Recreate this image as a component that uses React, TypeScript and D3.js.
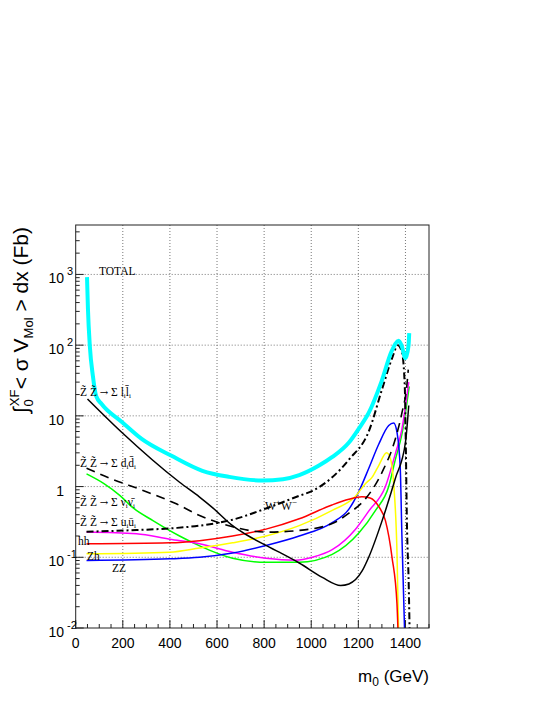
import * as d3 from "d3";

// m0 (GeV) / integrated <sigma v> (fb)
const totalM = [48, 52, 60, 73, 87, 110, 196, 280, 407, 538, 652, 792, 880, 949, 1033, 1088, 1160, 1202, 1244, 1299, 1342, 1371, 1384, 1400, 1413, 1416];
const totalV = [916, 324, 97, 36.6, 19, 14.7, 8.2, 4.72, 2.72, 1.67, 1.37, 1.22, 1.27, 1.45, 1.98, 2.6, 4.2, 6.6, 11, 31, 83, 115, 98, 65, 98, 148];

const llM = [50, 194, 441, 526, 582, 666, 723, 808, 864, 949, 1047, 1125, 1160, 1216, 1244, 1301, 1357, 1400, 1414];
const llV = [17.3, 5.9, 1.15, 0.71, 0.5, 0.28, 0.21, 0.147, 0.118, 0.083, 0.052, 0.04, 0.042, 0.064, 0.1, 0.33, 1.3, 4.2, 14];

const ddM = [46, 145, 286, 427, 526, 666, 808, 949, 1089, 1160, 1230, 1301, 1357, 1385, 1406, 1412];
const ddV = [1.82, 1.31, 0.88, 0.57, 0.39, 0.27, 0.227, 0.24, 0.3, 0.42, 0.67, 1.6, 4.7, 11, 27, 45];

const wwM = [46, 216, 427, 526, 666, 808, 949, 1005, 1089, 1160, 1244, 1301, 1343, 1368, 1385, 1397, 1402, 1406, 1414, 1418];
const wwV = [0.23, 0.24, 0.26, 0.28, 0.34, 0.49, 0.74, 0.87, 1.35, 2.4, 6, 24, 65, 100, 80, 27, 3.1, 0.35, 0.04, 0.008];

const hhM = [46, 399, 526, 666, 808, 949, 1088, 1160, 1215, 1250, 1287, 1315, 1343, 1364, 1370];
const hhV = [0.155, 0.16, 0.172, 0.2, 0.25, 0.35, 0.55, 0.66, 0.72, 0.69, 0.52, 0.33, 0.1, 0.022, 0.006];

const zhM = [46, 399, 526, 666, 808, 949, 1089, 1188, 1230, 1258, 1287, 1320, 1336, 1350, 1364, 1372];
const zhV = [0.112, 0.118, 0.135, 0.16, 0.2, 0.28, 0.46, 0.73, 1.1, 1.35, 2.0, 3.0, 2.5, 1.1, 0.12, 0.006];

const zzM = [46, 399, 526, 666, 808, 949, 1089, 1160, 1202, 1244, 1287, 1329, 1350, 1364, 1378, 1385, 1392, 1398];
const zzV = [0.09, 0.095, 0.1, 0.115, 0.147, 0.2, 0.31, 0.48, 0.85, 1.8, 4.0, 7.3, 7.9, 5.9, 1.8, 0.2, 0.03, 0.006];

const uuM = [46, 258, 399, 526, 666, 808, 934, 1005, 1089, 1188, 1244, 1315, 1357, 1385, 1414];
const uuV = [0.227, 0.215, 0.18, 0.155, 0.118, 0.097, 0.091, 0.1, 0.128, 0.25, 0.45, 1.0, 2.9, 6.5, 30];

const nnM = [46, 120, 187, 244, 328, 441, 526, 666, 808, 949, 1089, 1202, 1273, 1329, 1357, 1385, 1416];
const nnV = [1.51, 1.1, 0.75, 0.5, 0.33, 0.2, 0.145, 0.097, 0.085, 0.085, 0.11, 0.22, 0.46, 1.0, 2.4, 5.5, 26];

const xTicks = [0, 200, 400, 600, 800, 1000, 1200, 1400];
const yDecades = [-2, -1, 0, 1, 2, 3];

const X0 = 75.7, X1 = 429, Y0 = 225, Y1 = 628;

const series = [
  { m: nnM, v: nnV, color: "#00ff00", width: 1.5, dash: "" },
  { m: uuM, v: uuV, color: "#ff00ff", width: 1.5, dash: "" },
  { m: zzM, v: zzV, color: "#0000ff", width: 1.5, dash: "" },
  { m: zhM, v: zhV, color: "#ffff00", width: 1.5, dash: "" },
  { m: hhM, v: hhV, color: "#ff0000", width: 1.5, dash: "" },
  { m: llM, v: llV, color: "#000000", width: 1.5, dash: "" },
  { m: ddM, v: ddV, color: "#000000", width: 1.6, dash: "9,6" },
  { m: wwM, v: wwV, color: "#000000", width: 2, dash: "7,3,2,3" },
  { m: totalM, v: totalV, color: "#00ffff", width: 4, dash: "" },
];

export default function App() {
  const x = d3.scaleLinear().domain([0, 1500]).range([X0, X1]);
  const y = d3.scaleLog().domain([0.01, 5000]).range([Y1, Y0]);

  const line = d3
    .line<[number, number]>()
    .x((d) => x(d[0]))
    .y((d) => y(d[1]))
    .curve(d3.curveMonotoneX);

  const minorX = d3.range(0, 1501, 50).filter((d) => d % 200 !== 0);
  const minorY: number[] = [];
  for (let e = -2; e <= 3; e++) for (let k = 2; k <= 9; k++) minorY.push(k * Math.pow(10, e));

  const grid = "#777";
  const serif = "'Liberation Serif', 'Times New Roman', serif";
  const sans = "'Liberation Sans', Arial, Helvetica, sans-serif";
  const lbl = { fontFamily: serif, fontSize: 11.5, fill: "#000" };

  // label "Z~ Z~ -> Sigma f_i fbar_i"
  const zzLabel = (f: string, yy: number) => (
    <text x={80} y={yy} {...lbl}>
      {"Z\u0303 Z\u0303 "}
      <tspan fontFamily="'DejaVu Serif', serif" fontSize={10}>{"\u2192"}</tspan>
      {" \u03a3 " + f}
      <tspan fontSize={7} dy={2}>i</tspan>
      <tspan dy={-2}>{f + "\u0304"}</tspan>
      <tspan fontSize={7} dy={2}>i</tspan>
    </text>
  );

  return (
    <svg width={545} height={705} style={{ display: "block", position: "absolute", left: 0, top: 0 }}>
      <rect width={545} height={705} fill="#fff" />
      <defs>
        <clipPath id="plot">
          <rect x={X0} y={Y0} width={X1 - X0} height={Y1 - Y0} />
        </clipPath>
      </defs>

      {xTicks.slice(1).map((t) => (
        <line key={"gx" + t} x1={x(t)} x2={x(t)} y1={Y0} y2={Y1} stroke={grid} strokeWidth={1} strokeDasharray="1,2" />
      ))}
      {yDecades.slice(1).map((e) => (
        <line key={"gy" + e} x1={X0} x2={X1} y1={y(Math.pow(10, e))} y2={y(Math.pow(10, e))} stroke={grid} strokeWidth={1} strokeDasharray="1,2" />
      ))}

      <g clipPath="url(#plot)">
        {series.map((s, i) => (
          <path
            key={i}
            d={line(s.m.map((m, j) => [m, s.v[j]] as [number, number])) || ""}
            fill="none"
            stroke={s.color}
            strokeWidth={s.width}
            strokeDasharray={s.dash}
            strokeLinejoin="round"
          />
        ))}
      </g>

      <rect x={X0} y={Y0} width={X1 - X0} height={Y1 - Y0} fill="none" stroke="#222" strokeWidth={1} />

      {xTicks.map((t) => (
        <line key={"tx" + t} x1={x(t)} x2={x(t)} y1={Y1} y2={Y1 - 8} stroke="#222" />
      ))}
      {minorX.map((t) => (
        <line key={"mx" + t} x1={x(t)} x2={x(t)} y1={Y1} y2={Y1 - 4} stroke="#222" />
      ))}
      {yDecades.map((e) => (
        <line key={"ty" + e} x1={X0} x2={X0 + 8} y1={y(Math.pow(10, e))} y2={y(Math.pow(10, e))} stroke="#222" />
      ))}
      {minorY.filter((v) => v < 5000).map((v, i) => (
        <line key={"my" + i} x1={X0} x2={X0 + 4} y1={y(v)} y2={y(v)} stroke="#222" />
      ))}

      {xTicks.map((t) => (
        <text key={"lx" + t} x={x(t)} y={648} textAnchor="middle" fontFamily={sans} fontSize={14}>
          {t}
        </text>
      ))}
      {yDecades.map((e) => {
        const yy = y(Math.pow(10, e));
        const base = e === 0 ? "1" : "10";
        const sup = e === 0 || e === 1 ? "" : String(e);
        return (
          <g key={"ly" + e}>
            <text x={64} y={yy + 9} textAnchor="end" fontFamily={sans} fontSize={14}>
              {base}
            </text>
            {sup && (
              <text x={67} y={yy + 1} fontFamily={sans} fontSize={11}>
                {sup}
              </text>
            )}
          </g>
        );
      })}

      <text x={X1} y={682} textAnchor="end" fontFamily={sans} fontSize={17}>
        m<tspan fontSize={12} dy={4}>0</tspan>
        <tspan dy={-4}> (GeV)</tspan>
      </text>

      <text transform={`translate(28,${Y0 + 2}) rotate(-90)`} textAnchor="end" fontFamily={sans} fontSize={21}>
        ∫<tspan fontSize={13} dx={1} dy={-9}>XF</tspan>
        <tspan fontSize={13} dx={-17} dy={14}>0</tspan>
        <tspan dx={10} dy={-5}>{"< σ V"}</tspan>
        <tspan fontSize={13} dy={5}>Mol</tspan>
        <tspan dy={-5}>{" > dx (Fb)"}</tspan>
      </text>

      <text x={99} y={275} {...lbl}>TOTAL</text>
      {zzLabel("l", 396)}
      {zzLabel("d", 467)}
      {zzLabel("\u03bd", 506)}
      {zzLabel("u", 526)}
      <text x={78} y={545} {...lbl}>hh</text>
      <text x={87} y={560} {...lbl}>Zh</text>
      <text x={112} y={572} {...lbl}>ZZ</text>
      <text x={265} y={510} {...lbl}>
        W<tspan fontSize={9} dy={-5}>+</tspan>
        <tspan dy={5}>W</tspan>
        <tspan fontSize={9} dy={-5}>−</tspan>
      </text>
    </svg>
  );
}
